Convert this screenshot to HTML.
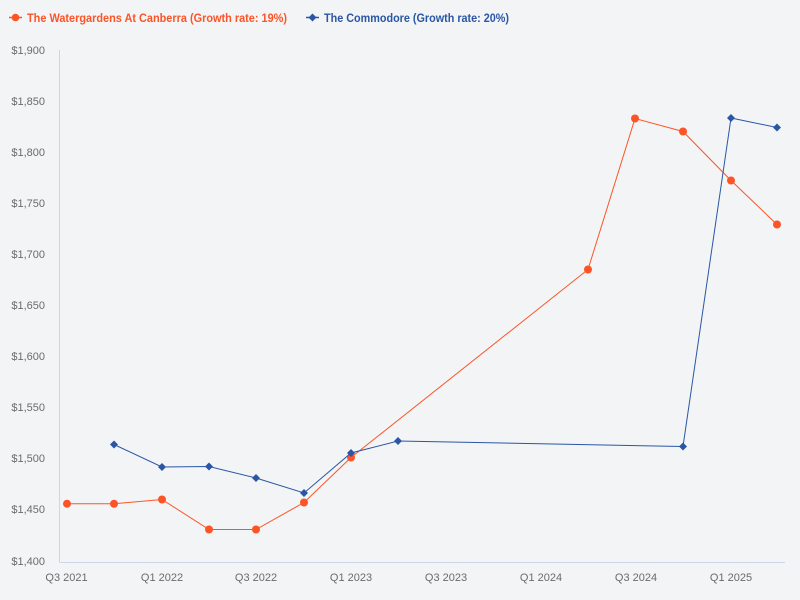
<!DOCTYPE html>
<html><head><meta charset="utf-8"><style>
html,body{margin:0;padding:0;background:#f2f4f6;}
svg{display:block;}
text{font-family:"Liberation Sans",sans-serif;}
</style></head><body>
<svg width="800" height="600" viewBox="0 0 800 600" xmlns="http://www.w3.org/2000/svg">
<rect width="800" height="600" fill="#f2f4f6"/>
<!-- legend -->
<line x1="9" y1="17.5" x2="22" y2="17.5" stroke="#fd5427" stroke-width="1.5"/>
<circle cx="15.5" cy="17.5" r="3.8" fill="#fd5427"/>
<text x="27" y="22" font-size="12" font-weight="bold" fill="#fd5427" textLength="260" lengthAdjust="spacingAndGlyphs">The Watergardens At Canberra (Growth rate: 19%)</text>
<line x1="306" y1="17.5" x2="319" y2="17.5" stroke="#2a56a5" stroke-width="1.5"/>
<path d="M312.5 13.5 L316.5 17.5 L312.5 21.5 L308.5 17.5 Z" fill="#2a56a5"/>
<text x="324" y="22" font-size="12" font-weight="bold" fill="#2a56a5" textLength="185" lengthAdjust="spacingAndGlyphs">The Commodore (Growth rate: 20%)</text>
<!-- axes -->
<line x1="59.5" y1="50" x2="59.5" y2="562" stroke="#cdd6e4" stroke-width="1"/>
<line x1="59.5" y1="562.5" x2="785" y2="562.5" stroke="#cdd6e4" stroke-width="1"/>
<g font-size="11" fill="#6b6b6b" text-anchor="end">
<text x="45" y="54">$1,900</text>
<text x="45" y="105">$1,850</text>
<text x="45" y="156">$1,800</text>
<text x="45" y="207">$1,750</text>
<text x="45" y="258">$1,700</text>
<text x="45" y="309">$1,650</text>
<text x="45" y="360">$1,600</text>
<text x="45" y="411">$1,550</text>
<text x="45" y="462">$1,500</text>
<text x="45" y="513">$1,450</text>
<text x="45" y="565">$1,400</text>
</g>
<g font-size="11" fill="#6b6b6b" text-anchor="middle">
<text x="66.5" y="581">Q3 2021</text>
<text x="162" y="581">Q1 2022</text>
<text x="256" y="581">Q3 2022</text>
<text x="351" y="581">Q1 2023</text>
<text x="446" y="581">Q3 2023</text>
<text x="541" y="581">Q1 2024</text>
<text x="636" y="581">Q3 2024</text>
<text x="731" y="581">Q1 2025</text>
</g>
<!-- orange series -->
<polyline fill="none" stroke="#fd5427" stroke-width="1" points="67,503.7 114,503.8 162,499.5 209,529.5 256,529.5 304,502.5 351,457.5 588,269.5 635,118.5 683,131.5 731,180.5 777,224.5"/>
<g fill="#fd5427">
<circle cx="67" cy="503.7" r="4"/><circle cx="114" cy="503.8" r="4"/><circle cx="162" cy="499.5" r="4"/>
<circle cx="209" cy="529.5" r="4"/><circle cx="256" cy="529.5" r="4"/><circle cx="304" cy="502.5" r="4"/>
<circle cx="351" cy="457.5" r="4"/><circle cx="588" cy="269.5" r="4"/><circle cx="635" cy="118.5" r="4"/>
<circle cx="683" cy="131.5" r="4"/><circle cx="731" cy="180.5" r="4"/><circle cx="777" cy="224.5" r="4"/>
</g>
<!-- blue series -->
<polyline fill="none" stroke="#2a56a5" stroke-width="1" points="114,444.5 162,467 209,466.5 256,478 304,493 351,453 398,441 683,446.5 731,118 777,127.5"/>
<g fill="#2a56a5">
<path d="M114 440.5 L118 444.5 L114 448.5 L110 444.5 Z"/>
<path d="M162 463 L166 467 L162 471 L158 467 Z"/>
<path d="M209 462.5 L213 466.5 L209 470.5 L205 466.5 Z"/>
<path d="M256 474 L260 478 L256 482 L252 478 Z"/>
<path d="M304 489 L308 493 L304 497 L300 493 Z"/>
<path d="M351 449 L355 453 L351 457 L347 453 Z"/>
<path d="M398 437 L402 441 L398 445 L394 441 Z"/>
<path d="M683 442.5 L687 446.5 L683 450.5 L679 446.5 Z"/>
<path d="M731 114 L735 118 L731 122 L727 118 Z"/>
<path d="M777 123.5 L781 127.5 L777 131.5 L773 127.5 Z"/>
</g>
</svg>
</body></html>
